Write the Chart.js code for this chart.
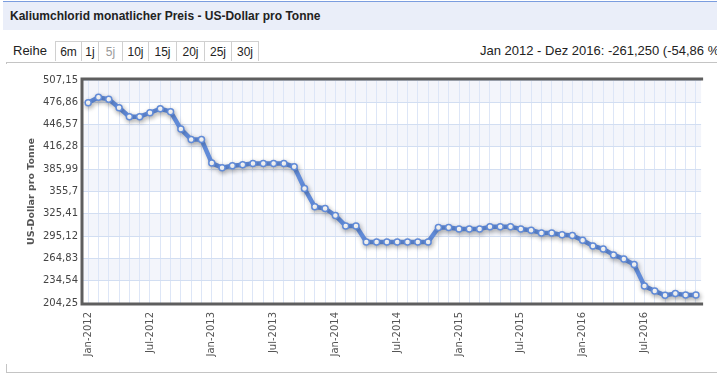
<!DOCTYPE html>
<html lang="de">
<head>
<meta charset="UTF-8">
<title>Kaliumchlorid monatlicher Preis</title>
<script src="https://cdn.jsdelivr.net/npm/chart.js@4/dist/chart.umd.min.js"></script>
<style>
  html, body { margin: 0; padding: 0; background: #fff; overflow: hidden; width: 717px; height: 375px; }
  body { position: relative; font-family: "Liberation Sans", Arial, sans-serif; color: #222; }
  .kopf { position: absolute; left: 3px; top: 1px; width: 730px; height: 28px; background: #eaeef9; border-top: 1px solid #7b9ddf; }
  .kopf span { position: absolute; left: 7px; top: 7px; font-size: 12px; font-weight: bold; white-space: nowrap; }
  .reihe { position: absolute; left: 13px; top: 43px; font-size: 13px; }
  .knopf { position: absolute; top: 41px; height: 20px; border: 1px solid #d0d0d0; border-bottom: none; font-size: 12px;
           line-height: 20px; text-align: center; background: #fff; box-sizing: border-box; }
  .knopf.aus { color: #999; }
  .info { position: absolute; left: 480px; top: 43px; font-size: 13px; white-space: nowrap; }
  .rahmen { position: absolute; left: 6px; top: 62px; width: 740px; height: 309px; border: 1px solid #c4c4c4; }
  #wrap { position: absolute; left: 0; top: 64px; width: 717px; height: 300px; }
</style>
</head>
<body>
  <div class="kopf"><span>Kaliumchlorid monatlicher Preis - US-Dollar pro Tonne</span></div>
  <div class="rahmen"></div>
  <div class="reihe">Reihe</div>
  <div id="knoepfe"></div>
  <div class="info">Jan 2012 - Dez 2016: -261,250 (-54,86 %)</div>
  <div id="wrap"><canvas id="preisChart" width="717" height="300"></canvas></div>

<script>
// Monate / Jahre fuer die Kategorien
const monate = ['Jan', 'Feb', 'Mär', 'Apr', 'Mai', 'Jun', 'Jul', 'Aug', 'Sep', 'Okt', 'Nov', 'Dez'];
const jahre = [2012, 2013, 2014, 2015, 2016];

// US-Dollar pro Tonne, je Jahr
const preis2012 = [476.25, 483.6, 480.9, 469.5, 457.3, 457.3, 462.7, 468.1, 464.1, 440.5, 426.4, 426.4];
const preis2013 = [394.3, 387.9, 390.6, 392.0, 393.8, 393.8, 393.8, 393.8, 389.3, 359.8, 334.9, 332.6];
const preis2014 = [323.1, 309.0, 309.0, 287.2, 287.2, 287.2, 287.2, 287.2, 287.2, 287.2, 306.7, 306.7];
const preis2015 = [304.9, 304.9, 304.9, 307.7, 307.7, 307.7, 304.9, 303.1, 299.5, 299.5, 296.8, 295.9];
const preis2016 = [289.5, 281.8, 277.7, 269.6, 264.1, 256.4, 227.4, 220.6, 214.7, 217.0, 215.2, 215.0];

// Achsenbeschriftung y
const yTicks = [204.25, 234.54, 264.83, 295.12, 325.41, 355.7, 385.99, 416.28, 446.57, 476.86, 507.15];

// Zeitraum-Knoepfe
const knopfText = ['6m', '1j', '5j', '10j', '15j', '20j', '25j', '30j'];
const knopfBreite = [26, 17, 24, 26, 28, 28, 27, 27];

let x0 = 55;
const kDiv = document.getElementById('knoepfe');
knopfText.forEach((t, i) => {
    const d = document.createElement('div');
    d.className = 'knopf' + (t === '5j' ? ' aus' : '');
    d.style.left = x0 + 'px';
    d.style.width = (knopfBreite[i] + 1) + 'px';
    d.textContent = t;
    kDiv.appendChild(d);
    x0 += knopfBreite[i];
});

const labels = [];
jahre.forEach(j => monate.forEach(m => labels.push(m + '-' + j)));
const werte = [].concat(preis2012, preis2013, preis2014, preis2015, preis2016);

const linienFarbe = '#618bd8';

const hintergrund = {
    id: 'hintergrund',
    beforeDraw(chart) {
        const { ctx, chartArea: a, scales: { y } } = chart;
        ctx.save();
        ctx.fillStyle = '#fff';
        ctx.fillRect(0, 0, chart.width, chart.height);
        ctx.fillStyle = '#f3f5fb';
        for (let i = yTicks.length - 1; i > 0; i -= 2) {
            const t = y.getPixelForValue(yTicks[i]);
            const b = y.getPixelForValue(yTicks[i - 1]);
            ctx.fillRect(a.left, t, a.right - a.left, b - t);
        }
        ctx.restore();
    },
    beforeDatasetDraw(chart) {
        const ctx = chart.ctx;
        ctx.save();
        ctx.shadowColor = 'rgba(0,0,0,0.22)';
        ctx.shadowBlur = 5;
        ctx.shadowOffsetX = 1;
        ctx.shadowOffsetY = 2;
    },
    afterDatasetDraw(chart) {
        chart.ctx.restore();
    },
    afterDraw(chart) {
        const { ctx, chartArea: a } = chart;
        ctx.save();
        ctx.strokeStyle = '#5e5e5e';
        ctx.lineWidth = 3;
        ctx.beginPath();
        ctx.moveTo(a.right + 2, a.top - 1);
        ctx.lineTo(a.left - 1, a.top - 1);
        ctx.lineTo(a.left - 1, a.bottom + 1);
        ctx.lineTo(a.right + 2, a.bottom + 1);
        ctx.stroke();
        ctx.restore();
    }
};

new Chart(document.getElementById('preisChart'), {
    type: 'line',
    data: {
        labels: labels,
        datasets: [{
            label: 'Kaliumchlorid',
            data: werte,
            borderColor: linienFarbe,
            borderWidth: 4.5,
            borderJoinStyle: 'round',
            borderCapStyle: 'round',
            tension: 0,
            fill: false,
            pointRadius: 3,
            pointBackgroundColor: '#fff',
            pointBorderColor: linienFarbe,
            pointBorderWidth: 1.5
        }]
    },
    options: {
        responsive: false,
        animation: false,
        events: [],
        layout: { padding: { left: 26, top: 16, right: 2, bottom: 0 } },
        plugins: { legend: { display: false }, tooltip: { enabled: false } },
        scales: {
            x: {
                type: 'category',
                offset: true,
                border: { display: false },
                grid: { color: '#dde6f7', offset: false, drawTicks: false },
                afterFit: s => { s.height = 61; },
                ticks: {
                    autoSkip: false,
                    minRotation: 90,
                    maxRotation: 90,
                    padding: 9,
                    color: '#555',
                    font: { family: 'DejaVu Sans', size: 10 },
                    callback: (v, i) => (i % 6 === 0 ? labels[i] : '')
                }
            },
            y: {
                min: 204.25,
                max: 507.15,
                border: { display: false },
                grid: { color: '#d2def2', drawTicks: false },
                afterBuildTicks: s => { s.ticks = yTicks.map(v => ({ value: v })); },
                afterFit: s => { s.width = 57; },
                ticks: {
                    padding: 5,
                    color: '#444',
                    font: { family: 'DejaVu Sans', size: 10 },
                    callback: v => String(v).replace('.', ',')
                },
                title: {
                    display: true,
                    text: 'US-Dollar pro Tonne',
                    color: '#555',
                    padding: { top: 0, bottom: 0 },
                    font: { family: 'DejaVu Sans', size: 9.5, weight: 'bold' }
                }
            }
        }
    },
    plugins: [hintergrund]
});
</script>
</body>
</html>
